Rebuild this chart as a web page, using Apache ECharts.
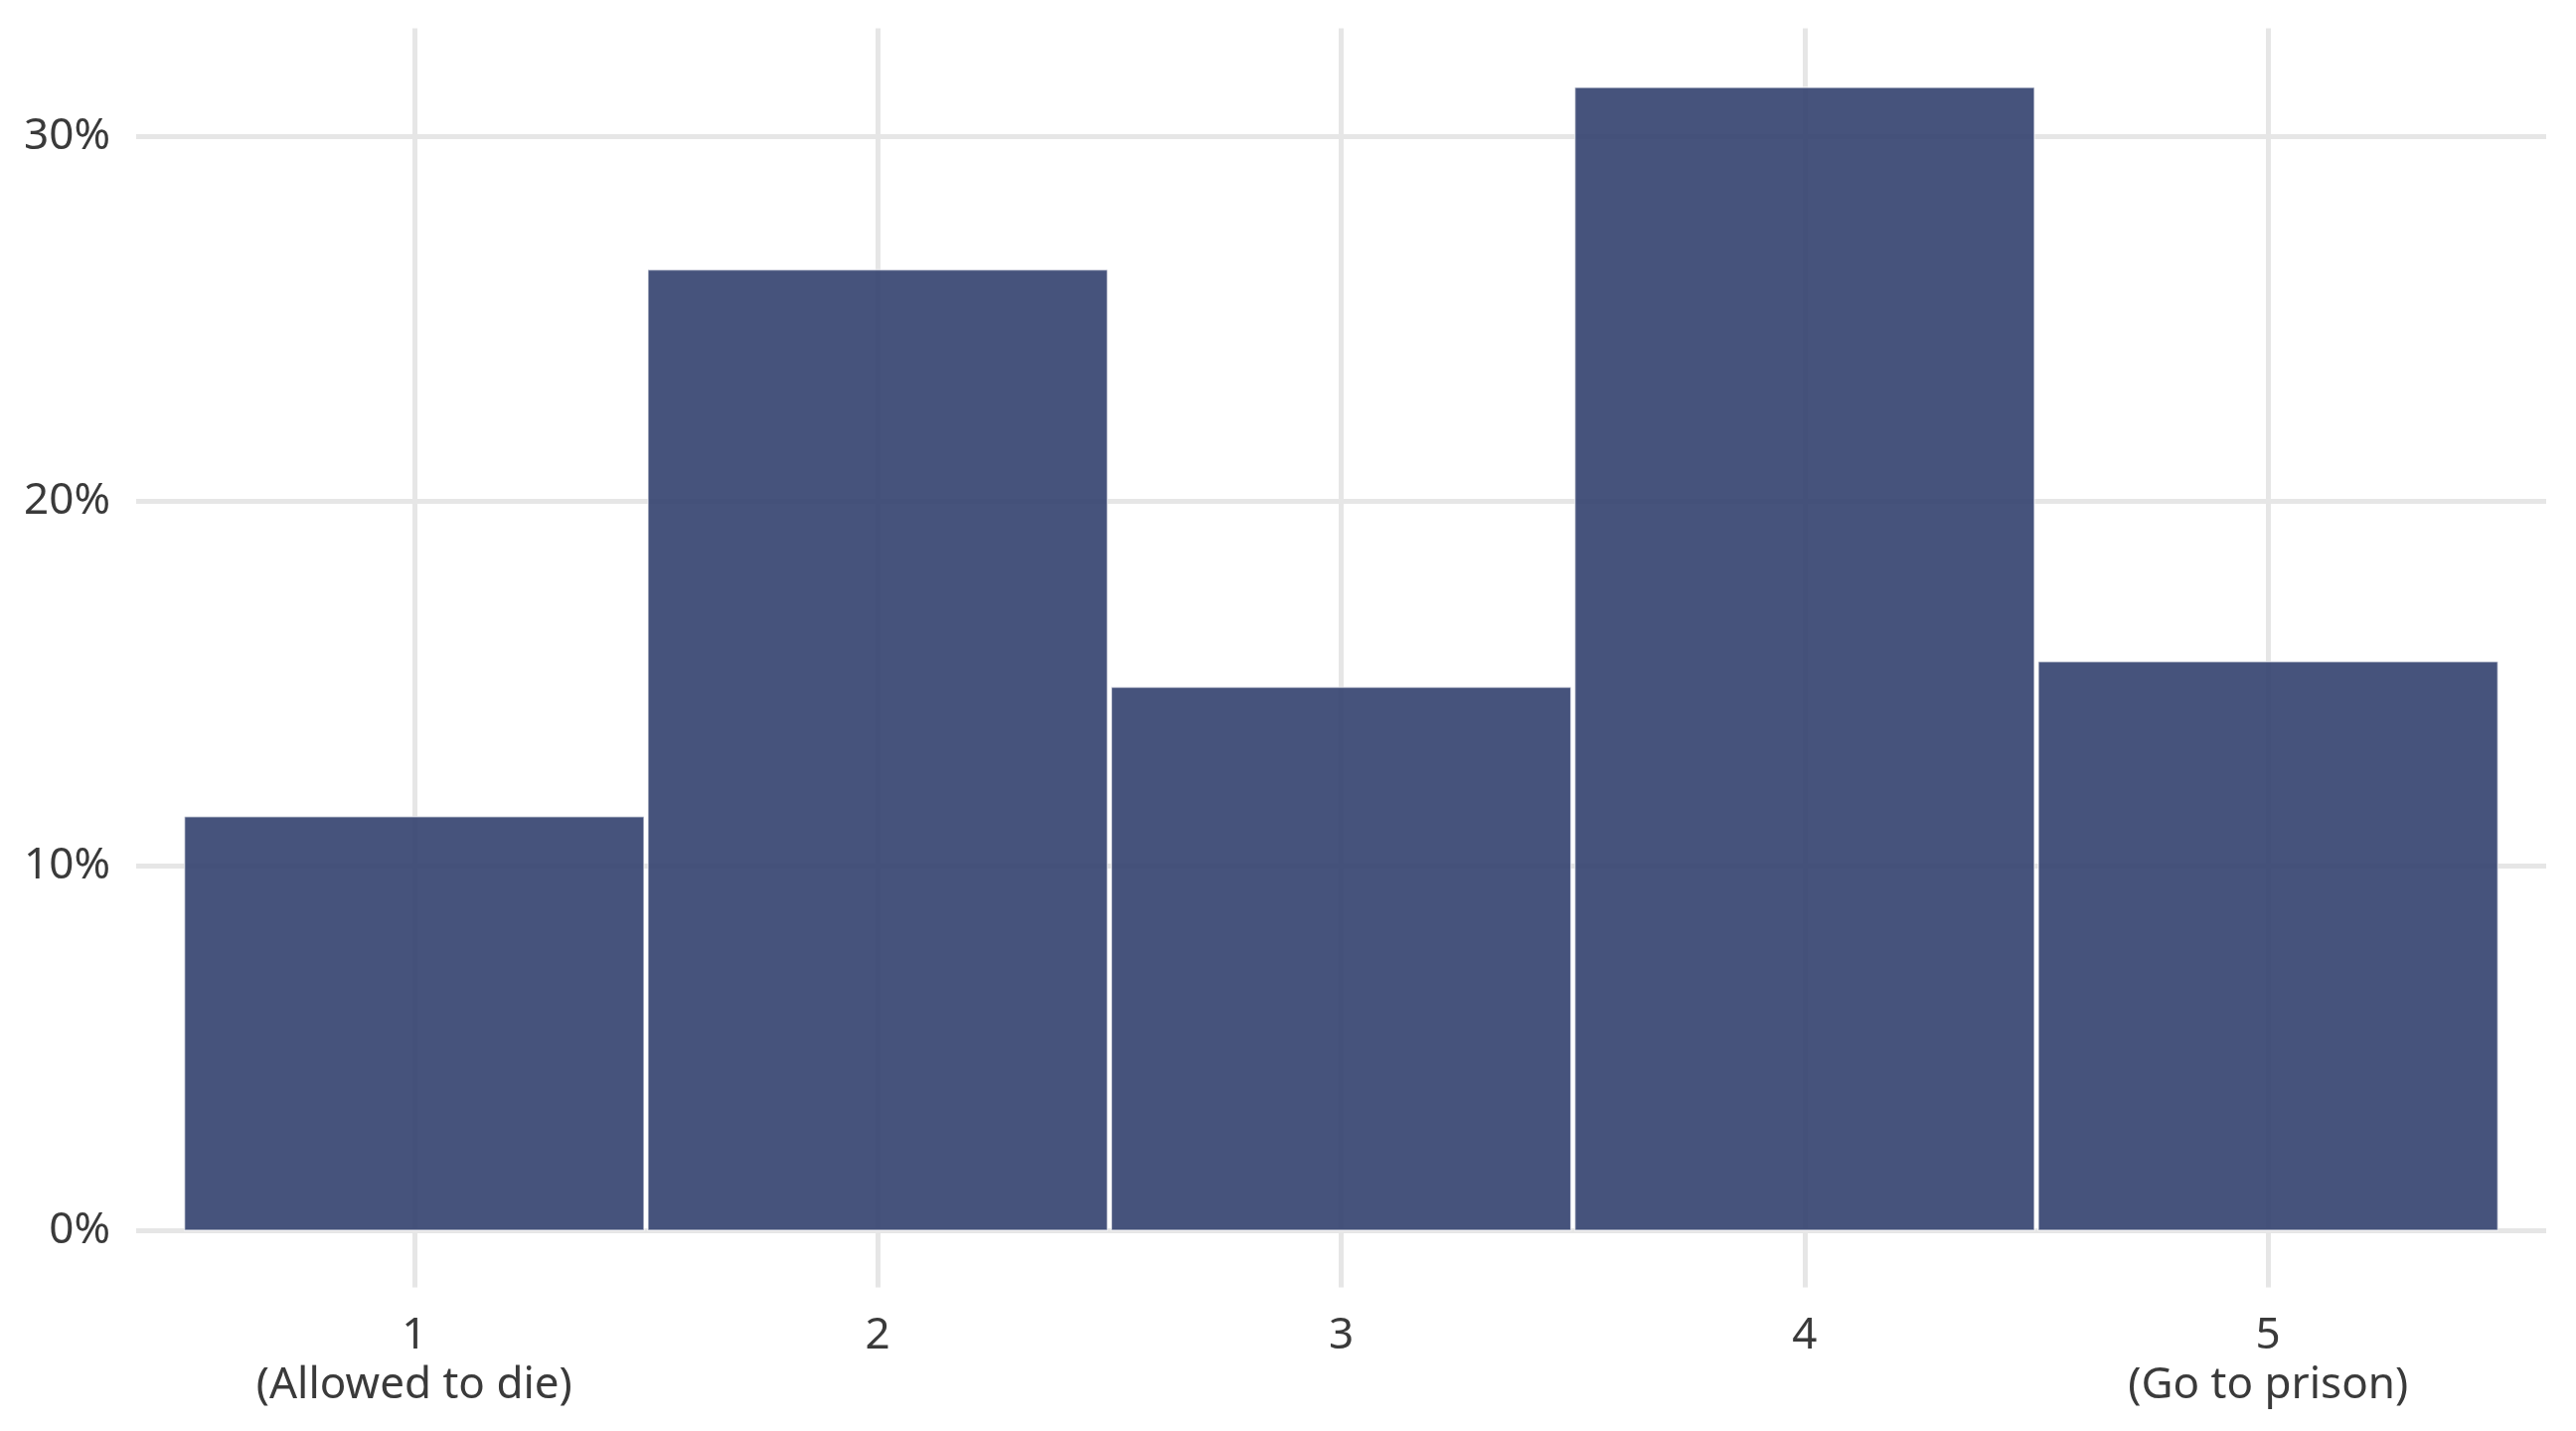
<!DOCTYPE html>
<html>
<head>
<meta charset="utf-8">
<script src="https://cdn.jsdelivr.net/npm/echarts@6/dist/echarts.min.js"></script>
<style>
  html, body { margin: 0; padding: 0; background: #ffffff; }
  #chart { width: 2592px; height: 1440px; }
</style>
</head>
<body>
<div id="chart"></div>
<script>
// Response scale positions (1 = Allowed to die ... 5 = Go to prison)
const categories = [1, 2, 3, 4, 5];
const tickLabels = ['1\n(Allowed to die)', '2', '3', '4', '5\n(Go to prison)'];
// Share of respondents (%)
const shares = [11.35, 26.35, 14.9, 31.35, 15.6];
const yTicks = [0, 10, 20, 30];

const chart = echarts.init(document.getElementById('chart'), null, { renderer: 'canvas' });

const gridColor = '#E6E6E6';
const textColor = '#3A3A3A';
const fontFamily = '"Noto Sans", "DejaVu Sans", sans-serif';

const option = {
  backgroundColor: '#ffffff',
  animation: false,
  grid: { left: 137, right: 30, top: 28.6, bottom: 144.4, containLabel: false },
  xAxis: {
    type: 'value',
    min: 0.4,
    max: 5.6,
    axisLine: { show: false },
    axisTick: { show: false, customValues: categories },
    axisLabel: {
      customValues: categories,
      formatter: function (v) {
        const i = categories.indexOf(Math.round(v));
        return i >= 0 ? tickLabels[i] : '';
      },
      color: textColor,
      fontFamily: fontFamily,
      fontSize: 44,
      lineHeight: 50,
      margin: 24
    },
    splitLine: { show: true, lineStyle: { color: gridColor, width: 5 } }
  },
  yAxis: {
    type: 'value',
    min: -1.57,
    max: 32.97,
    axisLine: { show: false },
    axisTick: { show: false, customValues: yTicks },
    axisLabel: {
      customValues: yTicks,
      formatter: function (v) { return Math.round(v) + '%'; },
      color: textColor,
      fontFamily: fontFamily,
      fontSize: 44,
      margin: 26
    },
    splitLine: { show: true, lineStyle: { color: gridColor, width: 5 } }
  },
  series: [{
    type: 'custom',
    data: categories.map(function (c, i) { return [c, shares[i]]; }),
    encode: { x: 0, y: 1 },
    renderItem: function (params, api) {
      const x = api.value(0);
      const y = api.value(1);
      const p0 = api.coord([x - 0.5, y]);
      const p1 = api.coord([x + 0.5, 0]);
      return {
        type: 'rect',
        shape: { x: p0[0] + 2, y: p0[1], width: p1[0] - p0[0] - 4, height: p1[1] - p0[1] },
        style: { fill: 'rgba(50,64,110,0.9)', stroke: 'rgba(255,255,255,0.6)', lineWidth: 1.5 }
      };
    }
  }]
};

chart.setOption(option);
</script>
</body>
</html>
